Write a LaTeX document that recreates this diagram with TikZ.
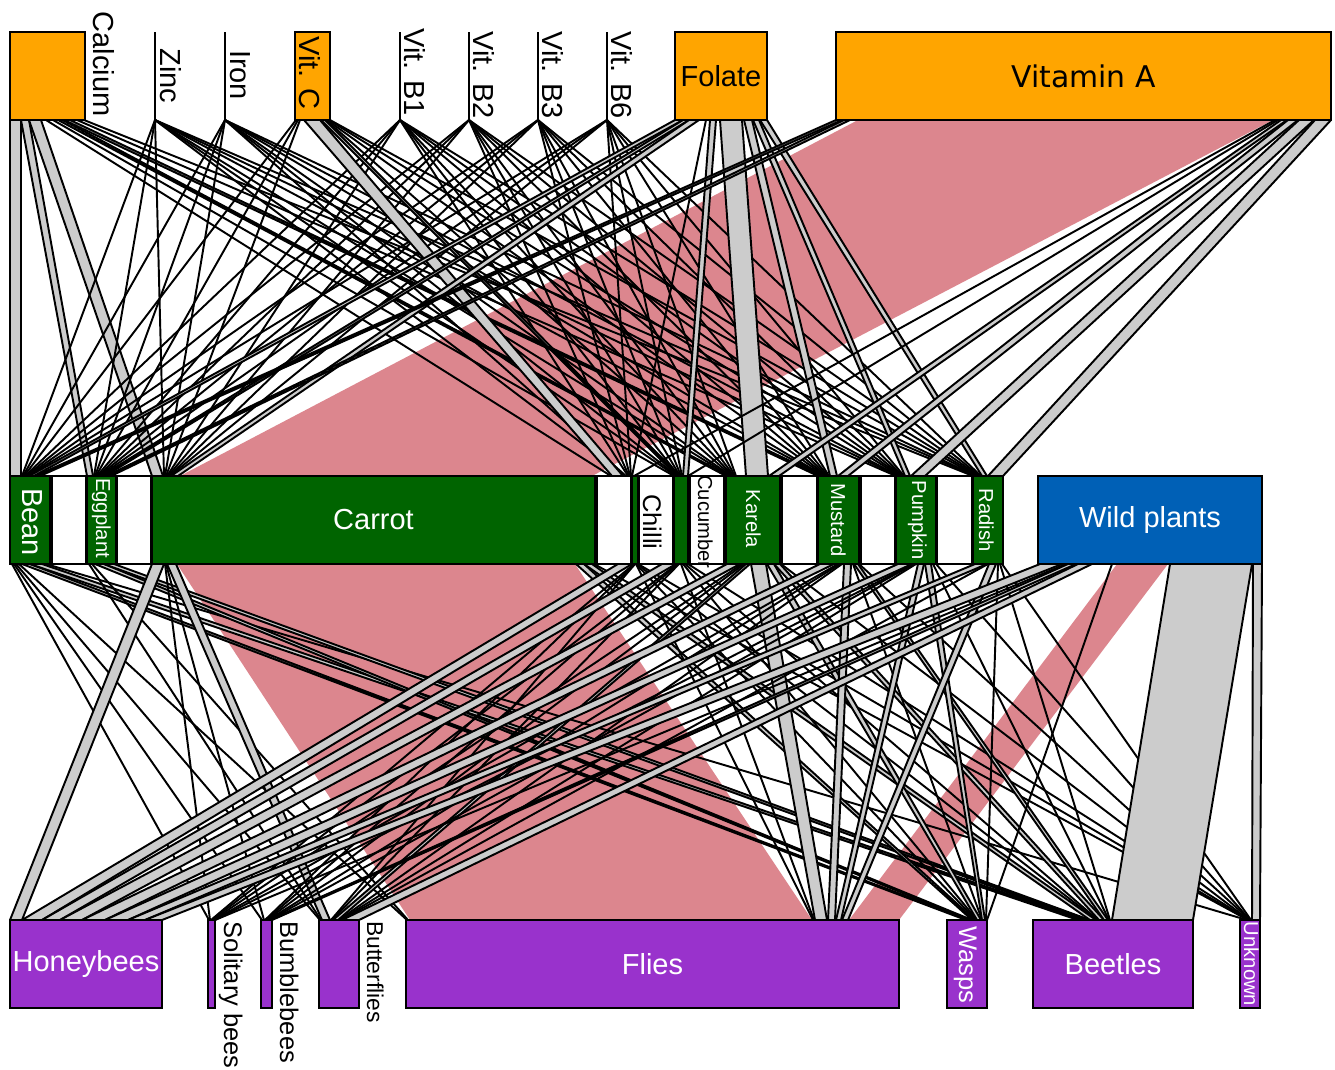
\documentclass[tikz,border=0pt]{standalone}
\usepackage{fontspec}
\setmainfont{Liberation Sans}
\newfontfamily\dejavu{DejaVu Sans}
\usetikzlibrary{backgrounds}
\definecolor{nutorange}{RGB}{255,165,0}
\definecolor{cropgreen}{RGB}{0,100,0}
\definecolor{wildblue}{RGB}{0,96,182}
\definecolor{pollpurple}{RGB}{153,50,204}
\definecolor{linkpink}{RGB}{220,134,142}
\definecolor{linkgrey}{RGB}{204,204,204}
\def\pxu{0.02cm}
\newcommand\bigf{\fontsize{16.5}{19}\selectfont}
\newcommand\midf{\fontsize{14.5}{17}\selectfont}
\newcommand\smf{\fontsize{11.5}{13}\selectfont}
% band from the bottom of one box to the top of the next one
\newcommand\lnk[7][gband]{\filldraw[#1] (#3,0 |- #2.south) -- (#4,0 |- #2.south) -- %
  (#7,0 |- #5.north) -- (#6,0 |- #5.north) -- cycle;}
% link that is only a line
\newcommand\tln[4]{\draw[tline] (#2,0 |- #1.south) -- (#4,0 |- #3.north);}

\begin{document}
\begin{tikzpicture} [x=\pxu, y=-\pxu, %
  box/.style={rectangle, draw, line width=1pt, inner sep=0pt, outer sep=0pt, minimum height=88*\pxu}, %
  nut/.style={box, fill=nutorange}, %
  nutline/.style={box, minimum width=0pt}, %
  crop/.style={box, fill=cropgreen, text=white}, %
  gap/.style={box, fill=white}, %
  wld/.style={box, fill=wildblue, text=white}, %
  poll/.style={box, fill=pollpurple, text=white}, %
  vlab/.style={rotate=-90, inner sep=0pt, anchor=base}, %
  tline/.style={line width=1.1pt}, %
  gband/.style={fill=linkgrey, draw=black, line width=1.1pt, line join=round}, %
  pband/.style={fill=linkpink, draw=none}] %
\useasboundingbox (0,0) rectangle (1335,1069); %
 %
% nutrients
\node[nut, minimum width=75*\pxu] (calcium) at (47.5,76) {}; %
\node[nutline] (zinc) at (155,76) {}; %
\node[nutline] (iron) at (225,76) {}; %
\node[nut, minimum width=35*\pxu] (vitc) at (312.5,76) {}; %
\node[nutline] (vitbone) at (400,76) {}; %
\node[nutline] (vitbtwo) at (469,76) {}; %
\node[nutline] (vitbthree) at (538,76) {}; %
\node[nutline] (vitbsix) at (607,76) {}; %
\node[nut, minimum width=92*\pxu] (folate) at (721,76) {\bigf Folate}; %
\node[nut, minimum width=495*\pxu] (vita) at (1083.5,76) {\dejavu\fontsize{17}{20}\selectfont Vitamin A}; %
 %
% crops
\node[crop, minimum width=40*\pxu] (bean) at (30,520) {}; %
\node[gap, minimum width=34*\pxu] (gapa) at (69,520) {}; %
\node[crop, minimum width=29*\pxu] (eggplant) at (101.5,520) {}; %
\node[gap, minimum width=34*\pxu] (gapb) at (134,520) {}; %
\node[crop, minimum width=443*\pxu] (carrot) at (373.5,520) {\bigf Carrot}; %
\node[gap, minimum width=34*\pxu] (gapc) at (614,520) {}; %
\node[crop, minimum width=6*\pxu] (chilli) at (635,520) {}; %
\node[gap, minimum width=34*\pxu] (gapd) at (656,520) {}; %
\node[crop, minimum width=14*\pxu] (cucumber) at (681,520) {}; %
\node[gap, minimum width=34*\pxu] (gape) at (707,520) {}; %
\node[crop, minimum width=54*\pxu] (karela) at (753,520) {}; %
\node[gap, minimum width=35*\pxu] (gapf) at (799.5,520) {}; %
\node[crop, minimum width=41*\pxu] (mustard) at (838.5,520) {}; %
\node[gap, minimum width=34*\pxu] (gapg) at (878,520) {}; %
\node[crop, minimum width=40*\pxu] (pumpkin) at (916,520) {}; %
\node[gap, minimum width=35*\pxu] (gaph) at (954.5,520) {}; %
\node[crop, minimum width=30*\pxu] (radish) at (988,520) {}; %
\node[wld, minimum width=224*\pxu] (wild) at (1150,520) {\bigf Wild plants}; %
 %
% pollinators
\node[poll, minimum width=152*\pxu] (honeybees) at (86,964) {\bigf Honeybees}; %
\node[poll, minimum width=7*\pxu] (solitary) at (211.5,964) {}; %
\node[poll, minimum width=11*\pxu] (bumblebees) at (266.5,964) {}; %
\node[poll, minimum width=40*\pxu] (butterflies) at (339,964) {}; %
\node[poll, minimum width=493*\pxu] (flies) at (652.5,964) {\bigf Flies}; %
\node[poll, minimum width=40*\pxu] (wasps) at (967,964) {}; %
\node[poll, minimum width=160*\pxu] (beetles) at (1113,964) {\bigf Beetles}; %
\node[poll, minimum width=20*\pxu] (unknown) at (1250,964) {}; %
 %
% rotated labels
\node[vlab] (calcium-lab) at (93,64) {\bigf Calcium}; %
\node[vlab] (zinc-lab) at (160,76) {\bigf Zinc}; %
\node[vlab] (iron-lab) at (230,75) {\bigf Iron}; %
\node[vlab] (vitc-lab) at (299,73) {\bigf Vit. C}; %
\node[vlab] (vitbone-lab) at (404,72) {\bigf Vit. B1}; %
\node[vlab] (vitbtwo-lab) at (473,75) {\bigf Vit. B2}; %
\node[vlab] (vitbthree-lab) at (542,75) {\bigf Vit. B3}; %
\node[vlab] (vitbsix-lab) at (611,75) {\bigf Vit. B6}; %
\begin{scope}[every node/.style={vlab, text=white}] %
  \node (bean-lab) at (22,522) {\bigf Bean}; %
  \node (eggplant-lab) at (96,518) {\smf Eggplant}; %
  \node (karela-lab) at (746,519) {\smf Karela}; %
  \node (mustard-lab) at (831,520) {\smf Mustard}; %
  \node (pumpkin-lab) at (912,520) {\smf Pumpkin}; %
  \node (radish-lab) at (979,520) {\smf Radish}; %
  \node (wasps-lab) at (959,965) {\midf Wasps}; %
  \node (unknown-lab) at (1244,964) {\smf Unknown}; %
\end{scope} %
\node[vlab] (chilli-lab) at (643,522) {\midf Chilli}; %
\node[vlab] (cucumber-lab) at (698,522) {\smf Cucumber}; %
\node[vlab, anchor=base west] (solitary-lab) at (224,921) {\midf Solitary bees}; %
\node[vlab, anchor=base west] (bumblebees-lab) at (280,921) {\midf Bumblebees}; %
\node[vlab, anchor=base west] (butterflies-lab) at (367,921) {\fontsize{13}{15}\selectfont Butterflies}; %
 %
\begin{pgfonlayer}{background} %
\fill[white] (0,0) rectangle (1335,1069); %
% the three large links
\lnk[pband]{vita}{858}{1273}{carrot}{180}{592} %
\lnk[pband]{carrot}{177}{575}{flies}{410}{812} %
\lnk[pband]{wild}{1117}{1168}{flies}{849}{899} %
 %
% nutrients to crops
\lnk{calcium}{10}{21}{bean}{10}{21} %
\lnk{calcium}{21}{29}{eggplant}{87}{93} %
\lnk{calcium}{29}{41}{carrot}{152}{163} %
\tln{calcium}{46}{chilli}{611} %
\tln{calcium}{53}{cucumber}{674} %
\lnk{calcium}{58}{63}{karela}{726}{729} %
\lnk{calcium}{64}{70}{mustard}{818}{822} %
\tln{calcium}{77}{pumpkin}{896} %
\tln{calcium}{84}{radish}{973} %
\foreach \nut/\k in {zinc/1,iron/2,vitbone/4,vitbtwo/5,vitbthree/6,vitbsix/7} %
  \foreach \crop/\base in {bean/21,eggplant/93,carrot/163,chilli/624,cucumber/675,% 
      karela/729,mustard/822,pumpkin/897,radish/974} %
    \draw[tline] (\nut.south) -- ({\base+\k},0 |- \crop.north); %
\tln{vitc}{296}{bean}{24} %
\tln{vitc}{298}{eggplant}{96} %
\tln{vitc}{300}{carrot}{166} %
\lnk{vitc}{304}{320}{chilli}{612}{623} %
\lnk{vitc}{321}{325}{cucumber}{677}{680} %
\tln{vitc}{326}{karela}{732} %
\tln{vitc}{327}{mustard}{825} %
\tln{vitc}{329}{pumpkin}{900} %
\tln{vitc}{330}{radish}{977} %
\lnk{folate}{675}{683}{bean}{29}{34} %
\lnk{folate}{683}{689}{eggplant}{101}{105} %
\lnk{folate}{689}{699}{carrot}{171}{178} %
\tln{folate}{706}{chilli}{632} %
\lnk{folate}{710}{716}{cucumber}{683}{688} %
\lnk{folate}{720}{742}{karela}{746}{768} %
\lnk{folate}{744}{752}{mustard}{830}{837} %
\lnk{folate}{753}{759}{pumpkin}{905}{910} %
\lnk{folate}{760}{767}{radish}{982}{987} %
\lnk{vita}{836}{842}{bean}{35}{40} %
\lnk{vita}{844}{850}{eggplant}{106}{111} %
\tln{vita}{1275}{chilli}{634} %
\tln{vita}{1278}{cucumber}{688} %
\lnk{vita}{1281}{1287}{karela}{769}{779} %
\lnk{vita}{1288}{1298}{mustard}{838}{848} %
\lnk{vita}{1299}{1314}{pumpkin}{911}{925} %
\lnk{vita}{1315}{1331}{radish}{988}{1003} %
 %
% crops to pollinators
\tln{bean}{12}{solitary}{209} %
\tln{bean}{14}{bumblebees}{262} %
\tln{bean}{16}{butterflies}{320} %
\tln{bean}{19}{flies}{407} %
\lnk{bean}{22}{30}{wasps}{966}{969} %
\lnk{bean}{30}{42}{beetles}{1078}{1084} %
\tln{bean}{46}{unknown}{1247} %
\tln{eggplant}{89}{butterflies}{321} %
\tln{eggplant}{92}{flies}{408} %
\lnk{eggplant}{95}{104}{wasps}{969}{972} %
\lnk{eggplant}{104}{114}{beetles}{1084}{1090} %
\lnk{carrot}{152}{164}{honeybees}{10}{22} %
\tln{carrot}{165}{solitary}{210} %
\tln{carrot}{166}{bumblebees}{264} %
\lnk{carrot}{167}{176}{butterflies}{322}{330} %
\lnk{carrot}{576}{584}{wasps}{972}{975} %
\lnk{carrot}{584}{592}{beetles}{1090}{1096} %
\tln{carrot}{594}{unknown}{1248} %
\lnk{chilli}{618}{632}{honeybees}{22}{42} %
\tln{chilli}{634}{solitary}{211} %
\tln{chilli}{635}{bumblebees}{265} %
\tln{chilli}{635}{butterflies}{331} %
\tln{chilli}{636}{flies}{813} %
\tln{chilli}{636}{wasps}{976} %
\tln{chilli}{637}{beetles}{1097} %
\tln{chilli}{638}{unknown}{1248} %
\lnk{cucumber}{662}{676}{honeybees}{42}{60} %
\tln{cucumber}{677}{solitary}{212} %
\tln{cucumber}{678}{bumblebees}{266} %
\tln{cucumber}{679}{butterflies}{332} %
\tln{cucumber}{681}{flies}{814} %
\tln{cucumber}{683}{wasps}{977} %
\tln{cucumber}{685}{beetles}{1098} %
\tln{cucumber}{688}{unknown}{1249} %
\lnk{karela}{727}{740}{honeybees}{60}{82} %
\tln{karela}{742}{solitary}{213} %
\tln{karela}{744}{bumblebees}{267} %
\lnk{karela}{746}{750}{butterflies}{333}{338} %
\lnk{karela}{751}{766}{flies}{815}{827} %
\lnk{karela}{767}{774}{wasps}{977}{981} %
\lnk{karela}{774}{780}{beetles}{1099}{1104} %
\tln{karela}{781}{unknown}{1249} %
\lnk{mustard}{820}{834}{honeybees}{82}{105} %
\tln{mustard}{838}{solitary}{214} %
\tln{mustard}{840}{bumblebees}{268} %
\tln{mustard}{842}{butterflies}{339} %
\lnk{mustard}{844}{851}{flies}{828}{835} %
\tln{mustard}{853}{wasps}{982} %
\lnk{mustard}{854}{858}{beetles}{1104}{1108} %
\tln{mustard}{859}{unknown}{1250} %
\lnk{pumpkin}{898}{912}{honeybees}{105}{128} %
\tln{pumpkin}{913}{solitary}{215} %
\tln{pumpkin}{914}{bumblebees}{269} %
\tln{pumpkin}{916}{butterflies}{340} %
\lnk{pumpkin}{918}{924}{flies}{836}{841} %
\lnk{pumpkin}{925}{931}{wasps}{982}{985} %
\tln{pumpkin}{933}{beetles}{1109} %
\tln{pumpkin}{936}{unknown}{1250} %
\lnk{radish}{975}{987}{honeybees}{128}{145} %
\tln{radish}{988}{butterflies}{341} %
\lnk{radish}{989}{996}{flies}{842}{848} %
\tln{radish}{998}{wasps}{986} %
\tln{radish}{1000}{beetles}{1110} %
\tln{radish}{1002}{unknown}{1251} %
\lnk{wild}{1040}{1062}{honeybees}{145}{162} %
\tln{wild}{1066}{solitary}{215} %
\lnk{wild}{1068}{1076}{bumblebees}{269}{272} %
\lnk{wild}{1078}{1092}{butterflies}{342}{359} %
\tln{wild}{1112}{wasps}{987} %
\lnk{wild}{1170}{1252}{beetles}{1112}{1193} %
\lnk{wild}{1253}{1262}{unknown}{1252}{1260} %
\end{pgfonlayer} %
\end{tikzpicture}
\end{document}
